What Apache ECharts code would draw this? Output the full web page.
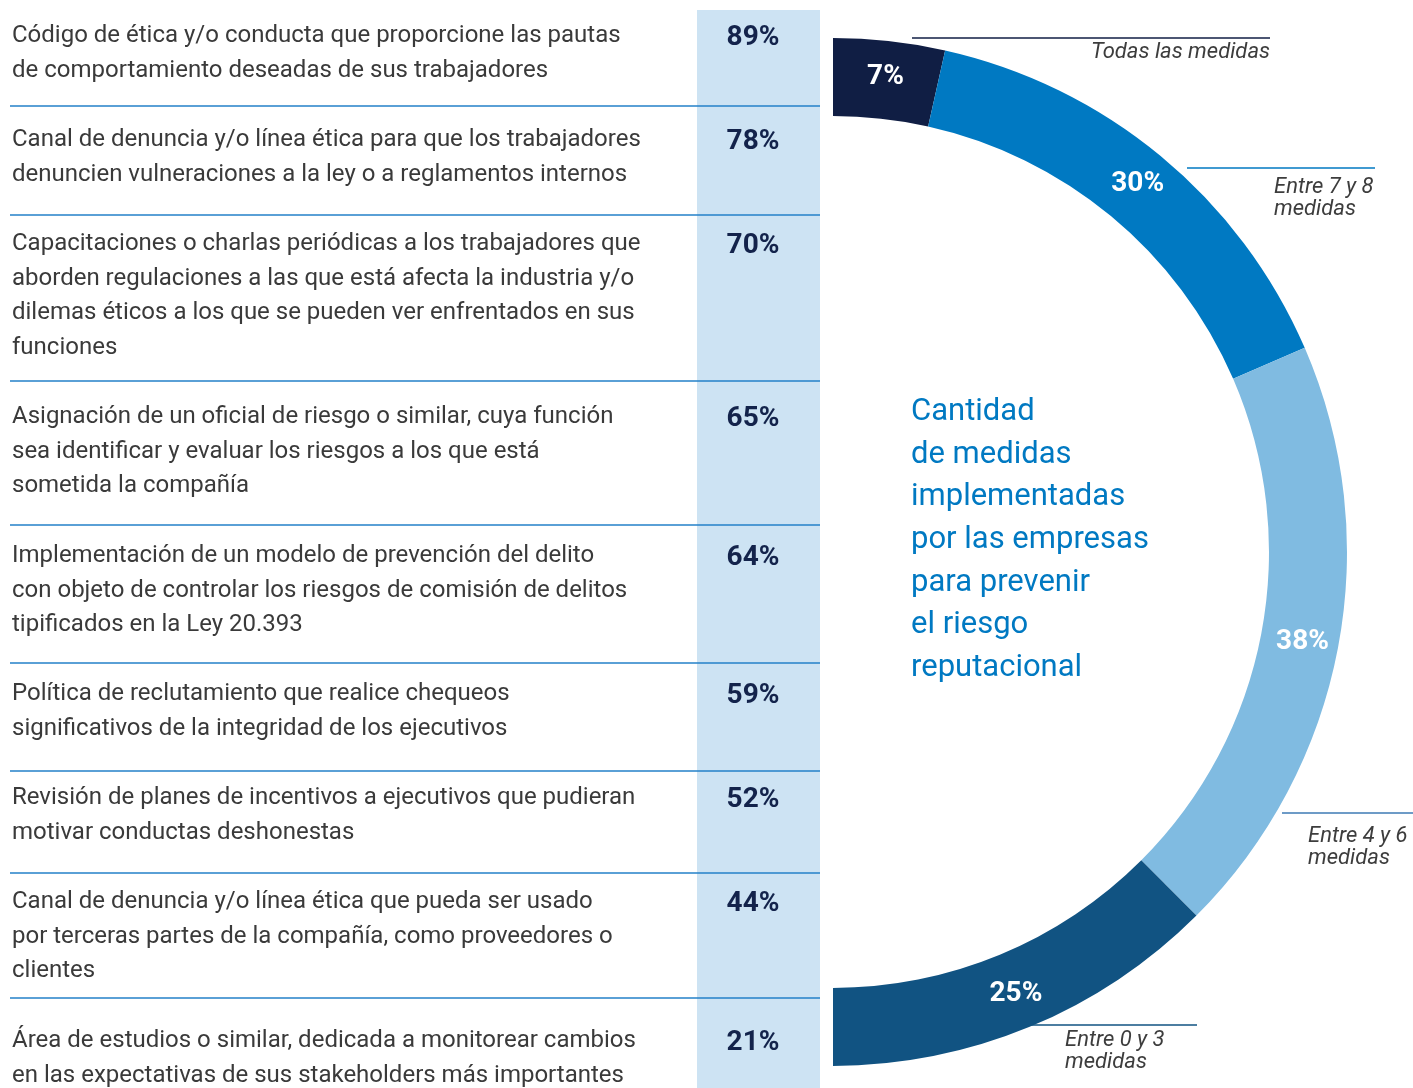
<!DOCTYPE html>
<html>
<head>
<meta charset="utf-8">
<script src="https://cdn.jsdelivr.net/npm/echarts@6/dist/echarts.min.js"></script>
<style>
  html, body { margin: 0; padding: 0; background: #fff; }
  #chart { width: 1413px; height: 1088px; }
</style>
</head>
<body>
<div id="chart"></div>
<script>
// measures listed in the table (line breaks as in the original)
const measures = [
  'Código de ética y/o conducta que proporcione las pautas\nde comportamiento deseadas de sus trabajadores',
  'Canal de denuncia y/o línea ética para que los trabajadores\ndenuncien vulneraciones a la ley o a reglamentos internos',
  'Capacitaciones o charlas periódicas a los trabajadores que\naborden regulaciones a las que está afecta la industria y/o\ndilemas éticos a los que se pueden ver enfrentados en sus\nfunciones',
  'Asignación de un oficial de riesgo o similar, cuya función\nsea identificar y evaluar los riesgos a los que está\nsometida la compañía',
  'Implementación de un modelo de prevención del delito\ncon objeto de controlar los riesgos de comisión de delitos\ntipificados en la Ley 20.393',
  'Política de reclutamiento que realice chequeos\nsignificativos de la integridad de los ejecutivos',
  'Revisión de planes de incentivos a ejecutivos que pudieran\nmotivar conductas deshonestas',
  'Canal de denuncia y/o línea ética que pueda ser usado\npor terceras partes de la compañía, como proveedores o\nclientes',
  'Área de estudios o similar, dedicada a monitorear cambios\nen las expectativas de sus stakeholders más importantes'
]
const measurePct = [89, 78, 70, 65, 64, 59, 52, 44, 21]

// donut: number of measures implemented
const groups = ['Todas las medidas', 'Entre 7 y 8\nmedidas', 'Entre 4 y 6\nmedidas', 'Entre 0 y 3\nmedidas']
const groupPct = [7, 30, 38, 25]
const centerTitle = 'Cantidad\nde medidas\nimplementadas\npor las empresas\npara prevenir\nel riesgo\nreputacional'

// layout of the table (pixels)
const rowTop = [36, 140, 244, 417, 556, 694, 798, 902, 1041]
const sepY = [106, 215, 381, 525, 663, 771, 873, 998]
const lineH = 34.7

const segColors = ['#101e44', '#0079c2', '#80bbe1', '#115382']
const lineColors = ['#101e44', '#0079c2', '#3d7ab5', '#115382']
// annotation placement: [lineX1, lineX2, lineY, textX, textY, align]
const annot = [
  [912, 1270, 38, 1270, 52, 'right'],
  [1187, 1375, 168, 1274, 187, 'left'],
  [1282, 1413, 813, 1308, 836, 'left'],
  [1027, 1197, 1025, 1065, 1040, 'left']
]

const font = 'Roboto, "Noto Sans", sans-serif'
const graphics = []

// light blue column behind percentages
graphics.push({
  type: 'rect', z: 0,
  shape: { x: 697, y: 10, width: 123, height: 1078 },
  style: { fill: '#cde3f3' }
})
sepY.forEach(y => {
  graphics.push({
    type: 'line', z: 1,
    shape: { x1: 10, y1: y, x2: 820, y2: y },
    style: { stroke: '#2380c8', lineWidth: 1.5 }
  })
})
measures.forEach((t, i) => {
  graphics.push({
    type: 'text', z: 2,
    style: {
      text: t, x: 12, y: rowTop[i] - lineH / 2,
      fill: '#3a3a3a', font: '24px ' + font,
      lineHeight: lineH, verticalAlign: 'top', align: 'left'
    }
  })
  graphics.push({
    type: 'text', z: 2,
    style: {
      text: measurePct[i] + '%', x: 753, y: rowTop[i] + 2,
      fill: '#13234b', font: 'bold 28px ' + font,
      verticalAlign: 'middle', align: 'center'
    }
  })
})

groups.forEach((g, i) => {
  const a = annot[i]
  graphics.push({
    type: 'line', z: 5,
    shape: { x1: a[0], y1: a[2], x2: a[1], y2: a[2] },
    style: { stroke: lineColors[i], lineWidth: 1.5 }
  })
  graphics.push({
    type: 'text', z: 5,
    style: {
      text: g, x: a[3], y: a[4] - 11,
      fill: '#3d3d3d', font: 'italic 22px ' + font,
      lineHeight: 22, verticalAlign: 'top', align: a[5]
    }
  })
})

graphics.push({
  type: 'text', z: 5,
  style: {
    text: centerTitle, x: 911, y: 412 - 21.3,
    fill: '#0079c2', font: '31px ' + font,
    lineHeight: 42.7, verticalAlign: 'top', align: 'left'
  }
})

const chart = echarts.init(document.getElementById('chart'))
chart.setOption({
  backgroundColor: '#ffffff',
  animation: false,
  graphic: graphics,
  series: [
    {
      type: 'pie',
      center: [833, 552],
      radius: [436, 514],
      startAngle: 90,
      endAngle: -90,
      clockwise: true,
      avoidLabelOverlap: false,
      silent: true,
      itemStyle: { borderWidth: 0 },
      label: {
        position: 'inside',
        formatter: '{c}%',
        color: '#ffffff',
        fontFamily: 'Roboto',
        fontWeight: 'bold',
        fontSize: 28
      },
      labelLine: { show: false },
      data: groups.map((g, i) => ({
        name: g,
        value: groupPct[i],
        itemStyle: { color: segColors[i] }
      }))
    }
  ]
})
</script>
</body>
</html>
